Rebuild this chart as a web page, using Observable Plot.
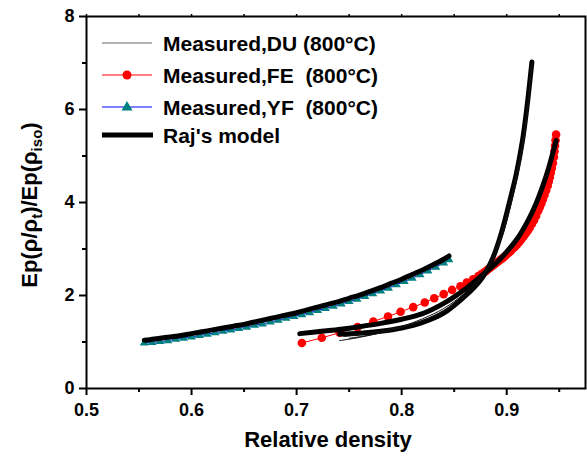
<!DOCTYPE html>
<html><head><meta charset="utf-8">
<script src="https://cdn.jsdelivr.net/npm/d3@7"></script>
<script src="https://cdn.jsdelivr.net/npm/@observablehq/plot@0.6"></script>
<style>body{margin:0;background:#fff}</style>
</head><body><div id="chart"></div>
<script>
// Tick values
const xMajor = [0.5, 0.6, 0.7, 0.8, 0.9];
const xMinor = [0.55, 0.65, 0.75, 0.85, 0.95];
const yMajor = [0, 2, 4, 6, 8];
const yMinor = [1, 3, 5, 7];

// Measured YF (teal triangles)
const yfX = [0.555,0.5625,0.570,0.5775,0.585,0.5925,0.600,0.6075,0.615,0.6225,0.630,0.6375,0.645,0.6525,0.660,0.6675,0.675,0.6825,0.690,0.6975,0.705,0.7125,0.720,0.7275,0.735,0.7425,0.750,0.7575,0.765,0.7725,0.780,0.7875,0.795,0.8025,0.810,0.8175,0.825,0.8325,0.840,0.845];
const yfY = [0.98,0.99,1.01,1.03,1.06,1.08,1.11,1.14,1.17,1.20,1.23,1.26,1.29,1.32,1.36,1.39,1.43,1.47,1.51,1.55,1.59,1.63,1.68,1.72,1.77,1.82,1.87,1.92,1.98,2.04,2.10,2.16,2.23,2.30,2.37,2.45,2.53,2.61,2.70,2.77];

// Raj's model for YF
const rajYfX = [0.555,0.56,0.57,0.58,0.59,0.60,0.61,0.62,0.63,0.64,0.65,0.66,0.67,0.68,0.69,0.70,0.71,0.72,0.73,0.74,0.75,0.76,0.77,0.78,0.79,0.80,0.81,0.82,0.83,0.84,0.845];
const rajYfY = [1.04,1.05,1.08,1.11,1.14,1.18,1.22,1.26,1.30,1.34,1.38,1.43,1.48,1.53,1.58,1.63,1.69,1.75,1.81,1.87,1.94,2.01,2.09,2.17,2.26,2.35,2.45,2.55,2.66,2.78,2.85];

// Measured FE (red dots)
const feX = [0.705,0.724,0.741,0.758,0.773,0.787,0.799,0.811,0.822,0.831,0.840,0.848,0.856,0.862,0.868,0.873,0.876,0.878,0.880,0.882,0.884,0.886,0.888,0.890,0.892,0.894,0.896,0.898,0.900,0.902,0.904,0.906,0.908,0.910,0.912,0.914,0.916,0.918,0.920,0.922,0.924,0.926,0.928,0.930,0.9315,0.933,0.9345,0.936,0.9375,0.939,0.940,0.941,0.942,0.943,0.944,0.945,0.9455,0.946,0.9465,0.947];
const feY = [0.98,1.09,1.20,1.32,1.44,1.55,1.65,1.75,1.85,1.94,2.03,2.12,2.20,2.28,2.35,2.42,2.46,2.49,2.52,2.56,2.59,2.63,2.66,2.70,2.73,2.77,2.80,2.84,2.88,2.92,2.96,3.01,3.05,3.10,3.15,3.21,3.27,3.33,3.39,3.46,3.54,3.62,3.71,3.82,3.90,3.98,4.07,4.16,4.26,4.36,4.45,4.54,4.64,4.74,4.85,4.98,5.10,5.22,5.34,5.46];

// Raj's model for FE
const rajFeX = [0.703,0.72,0.74,0.76,0.78,0.80,0.82,0.84,0.86,0.871,0.88,0.89,0.90,0.91,0.92,0.928,0.935,0.94,0.947];
const rajFeY = [1.18,1.22,1.27,1.33,1.40,1.49,1.61,1.83,2.13,2.33,2.50,2.70,2.94,3.22,3.60,3.98,4.40,4.75,5.33];

// Raj's model for DU
const rajDuX = [0.741,0.76,0.78,0.80,0.82,0.84,0.86,0.87,0.877,0.887,0.895,0.903,0.909,0.915,0.919,0.924];
const rajDuY = [1.17,1.19,1.23,1.30,1.42,1.62,1.98,2.20,2.39,2.82,3.35,4.04,4.60,5.33,6.00,7.02];

// Measured DU (thin lines, several runs)
const du1X = [0.741,0.76,0.78,0.80,0.82,0.84,0.86,0.875,0.885,0.895,0.903,0.910,0.916,0.920,0.923];
const du1Y = [1.03,1.10,1.20,1.33,1.50,1.72,2.05,2.40,2.80,3.35,4.00,4.70,5.40,6.10,6.95];
const du2X = [0.750,0.77,0.79,0.81,0.83,0.85,0.865,0.878,0.888,0.897,0.905,0.912,0.917,0.921,0.924];
const du2Y = [1.08,1.15,1.25,1.38,1.56,1.82,2.10,2.45,2.85,3.45,4.15,4.85,5.55,6.30,7.00];
const du3X = [0.745,0.765,0.785,0.805,0.825,0.845,0.862,0.876,0.886,0.896,0.904,0.911,0.917,0.921,0.925];
const du3Y = [1.12,1.18,1.26,1.36,1.50,1.72,2.02,2.38,2.76,3.30,3.95,4.65,5.40,6.20,7.05];

const legendLabels = ["Measured,DU (800°C)", "Measured,FE  (800°C)", "Measured,YF  (800°C)", "Raj's model"];

const zip = (xs, ys) => xs.map((x, i) => ({x, y: ys[i]}));
const yf = zip(yfX, yfY), rajYf = zip(rajYfX, rajYfY), fe = zip(feX, feY);
const rajFe = zip(rajFeX, rajFeY), rajDu = zip(rajDuX, rajDuY);
const dus = [zip(du1X, du1Y), zip(du2X, du2Y), zip(du3X, du3Y)];

const TEAL = "#008080", RED = "#ff0000";
const font = "'Liberation Sans', Arial, Helvetica, sans-serif";

const chart = Plot.plot({
  width: 587, height: 461,
  marginLeft: 86, marginRight: 2, marginTop: 16, marginBottom: 73,
  x: {domain: [0.5, 0.975]},
  y: {domain: [0, 8]},
  style: {fontFamily: font, fontSize: "18px", fontWeight: "bold", color: "black", background: "white", overflow: "visible"},
  marks: [
    Plot.axisX({ticks: xMajor, tickSize: 7, tickPadding: 8, tickFormat: d => d.toFixed(1), label: null, strokeWidth: 2}),
    Plot.axisX({ticks: xMinor, tickSize: 4, tickFormat: () => "", label: null, strokeWidth: 2}),
    Plot.axisX({anchor: "top", ticks: xMajor.concat(xMinor), tickSize: 3, tickFormat: () => "", label: null, strokeWidth: 1.5}),
    Plot.axisY({ticks: yMajor, tickSize: 7, tickPadding: 5, tickFormat: d => String(d), label: null, strokeWidth: 2}),
    Plot.axisY({ticks: yMinor, tickSize: 4, tickFormat: () => "", label: null, strokeWidth: 2}),
    Plot.line(fe, {x: "x", y: "y", stroke: RED, strokeWidth: 1}),
    Plot.dot(fe, {x: "x", y: "y", fill: RED, r: 4.3, stroke: null}),
    Plot.line(yf, {x: "x", y: "y", stroke: "#0000ff", strokeWidth: 1}),
    Plot.dot(yf, {x: "x", y: "y", symbol: "triangle", fill: TEAL, r: 3.3, stroke: null}),
    Plot.line(rajYf, {x: "x", y: "y", stroke: "black", strokeWidth: 5, curve: "catmull-rom"}),
    Plot.line(rajFe, {x: "x", y: "y", stroke: "black", strokeWidth: 5, curve: "catmull-rom"}),
    Plot.line(rajDu, {x: "x", y: "y", stroke: "black", strokeWidth: 5, curve: "catmull-rom"}),
    ...dus.map(d => Plot.line(d, {x: "x", y: "y", stroke: "#111", strokeWidth: 1, curve: "catmull-rom"})),
    Plot.frame({stroke: "black", strokeWidth: 2})
  ]
});
document.getElementById("chart").appendChild(chart);

const svg = d3.select(chart);
// X title
svg.append("text").attr("x", 328).attr("y", 447).attr("text-anchor", "middle")
  .attr("font-family", font).attr("font-size", 22).attr("font-weight", "bold").attr("fill", "black")
  .text("Relative density");
// Y title with subscripts
const yt = svg.append("text").attr("transform", "translate(37,205) rotate(-90)").attr("text-anchor", "middle")
  .attr("font-family", font).attr("font-size", 22).attr("font-weight", "bold").attr("fill", "black");
yt.append("tspan").text("Ep(ρ/ρ");
yt.append("tspan").attr("font-size", 15).attr("dy", 5).text("t");
yt.append("tspan").attr("dy", -5).text(")/Ep(ρ");
yt.append("tspan").attr("font-size", 15).attr("dy", 5).text("iso");
yt.append("tspan").attr("dy", -5).text(")");

// Legend
const lg = svg.append("g");
const rowsY = [43, 75, 107, 135];
const x0 = 102, x1 = 152, xm = 127, xt = 163;
lg.append("line").attr("x1", x0).attr("x2", x1).attr("y1", rowsY[0]).attr("y2", rowsY[0]).attr("stroke", "#666").attr("stroke-width", 1.2);
lg.append("line").attr("x1", x0).attr("x2", x1).attr("y1", rowsY[1]).attr("y2", rowsY[1]).attr("stroke", RED).attr("stroke-width", 1);
lg.append("circle").attr("cx", xm).attr("cy", rowsY[1]).attr("r", 4.5).attr("fill", RED);
lg.append("line").attr("x1", x0).attr("x2", x1).attr("y1", rowsY[2]).attr("y2", rowsY[2]).attr("stroke", "#0000ff").attr("stroke-width", 1);
lg.append("path").attr("d", `M${xm},${rowsY[2]-6}L${xm+5.5},${rowsY[2]+3.5}L${xm-5.5},${rowsY[2]+3.5}Z`).attr("fill", TEAL);
lg.append("line").attr("x1", x0).attr("x2", x1+1).attr("y1", rowsY[3]).attr("y2", rowsY[3]).attr("stroke", "black").attr("stroke-width", 5);
legendLabels.forEach((t, i) => {
  lg.append("text").attr("x", xt).attr("y", rowsY[i]).attr("dy", "0.36em").attr("text-anchor", "start")
    .attr("font-family", font).attr("font-size", 21).attr("font-weight", "bold").attr("fill", "black")
    .attr("xml:space", "preserve").style("white-space", "pre").text(t);
});
</script>
</body></html>
